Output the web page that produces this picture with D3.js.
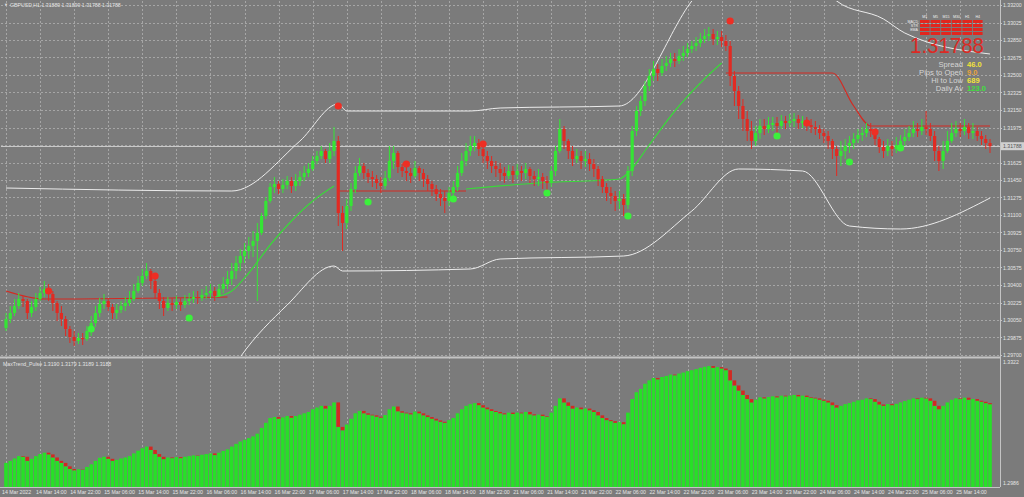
<!DOCTYPE html>
<html>
<head>
<meta charset="utf-8">
<script src="https://cdn.jsdelivr.net/npm/d3@7"></script>
<style>
  body { margin: 0; background: #7b7b7b; overflow: hidden; }
  svg { display: block; }
  text { font-family: "Liberation Sans", Arial, sans-serif; }
</style>
</head>
<body>
<div id="chart"></div>
<script>
// ---- data (GBPUSD H1) ----
const symbolTitle = "GBPUSD,H1  1.31889 1.31899 1.31788 1.31788"
const pulseTitle = "MaxTrend_Pulse 1.3190 1.3179 1.3189 1.3188"
const firstOpen = 1.2997

const closes = [
  1.3006,1.3012,1.3019,1.3026,1.3024,1.3012,1.3018,1.3026,1.3032,1.3036,
  1.3031,1.3022,1.3012,1.3006,1.2996,1.2988,1.2984,1.2987,1.2986,1.2994,
  1.3002,1.3012,1.3021,1.3024,1.3018,1.3012,1.3015,1.3019,1.3022,1.3026,
  1.3034,1.3042,1.3049,1.3054,1.3044,1.3032,1.3024,1.3017,1.3022,1.3020,
  1.3023,1.3020,1.3024,1.3026,1.3028,1.3027,1.3030,1.3032,1.3034,1.3029,
  1.3036,1.3041,1.3046,1.3054,1.3062,1.3069,1.3074,1.3079,1.3084,1.3092,
  1.3109,1.3124,1.3138,1.3141,1.3136,1.3140,1.3144,1.3139,1.3144,1.3148,
  1.3152,1.3156,1.3164,1.3169,1.3174,1.3166,1.3174,1.3184,1.3112,1.3102,
  1.3119,1.3136,1.3152,1.3159,1.3152,1.3148,1.3146,1.3142,1.3139,1.3147,
  1.3164,1.3172,1.3158,1.3154,1.3152,1.3149,1.3157,1.3152,1.3146,1.3141,
  1.3136,1.3131,1.3127,1.3124,1.3132,1.3138,1.3152,1.3164,1.3174,1.3179,
  1.3182,1.3176,1.3169,1.3164,1.3159,1.3156,1.3152,1.3149,1.3154,1.3150,
  1.3154,1.3152,1.3156,1.3149,1.3146,1.3148,1.3144,1.3142,1.3154,1.3174,
  1.3196,1.3184,1.3174,1.3166,1.3169,1.3164,1.3166,1.3161,1.3156,1.3146,
  1.3138,1.3132,1.3129,1.3124,1.3126,1.3120,1.3154,1.3194,1.3214,1.3224,
  1.3239,1.3249,1.3256,1.3252,1.3259,1.3262,1.3266,1.3264,1.3269,1.3272,
  1.3276,1.3279,1.3282,1.3286,1.3289,1.3291,1.3286,1.3288,1.3284,1.3279,
  1.3249,1.3234,1.3219,1.3206,1.3194,1.3184,1.3192,1.3199,1.3196,1.3200,
  1.3202,1.3199,1.3204,1.3202,1.3204,1.3206,1.3202,1.3204,1.3200,1.3198,
  1.3196,1.3192,1.3189,1.3184,1.3176,1.3169,1.3174,1.3179,1.3182,1.3186,
  1.3190,1.3192,1.3196,1.3194,1.3186,1.3178,1.3174,1.3179,1.3176,1.3180,
  1.3184,1.3188,1.3192,1.3196,1.3194,1.3198,1.3196,1.3189,1.3174,1.3164,
  1.3174,1.3184,1.3192,1.3196,1.3194,1.3198,1.3192,1.3194,1.3189,1.3186,1.3182,1.31788
]

const highs = [
  1.3012,1.3019,1.3026,1.3032,1.3029,1.3026,1.3024,1.3032,1.3038,1.3044,
  1.3041,1.3034,1.3024,1.3019,1.3009,1.2999,1.2994,1.2992,1.2992,1.2999,
  1.3009,1.3019,1.3027,1.3031,1.3026,1.3021,1.3021,1.3024,1.3028,1.3034,
  1.3041,1.3049,1.3056,1.3062,1.3056,1.3048,1.3036,1.3028,1.3028,1.3027,
  1.3029,1.3027,1.3030,1.3032,1.3034,1.3034,1.3036,1.3039,1.3041,1.3038,
  1.3041,1.3048,1.3054,1.3062,1.3069,1.3076,1.3082,1.3088,1.3094,1.3102,
  1.3112,1.3128,1.3142,1.3148,1.3144,1.3146,1.3149,1.3148,1.3151,1.3154,
  1.3159,1.3162,1.3169,1.3174,1.3179,1.3176,1.3182,1.3198,1.3189,1.3119,
  1.3126,1.3142,1.3159,1.3167,1.3162,1.3156,1.3154,1.3150,1.3148,1.3154,
  1.3179,1.3179,1.3174,1.3162,1.3159,1.3157,1.3164,1.3159,1.3156,1.3150,
  1.3144,1.3140,1.3136,1.3134,1.3138,1.3144,1.3159,1.3172,1.3182,1.3189,
  1.3189,1.3186,1.3181,1.3174,1.3169,1.3164,1.3162,1.3158,1.3160,1.3159,
  1.3161,1.3159,1.3162,1.3158,1.3154,1.3156,1.3152,1.3149,1.3159,1.3179,
  1.3206,1.3199,1.3186,1.3179,1.3176,1.3174,1.3174,1.3172,1.3166,1.3159,
  1.3149,1.3142,1.3138,1.3134,1.3134,1.3131,1.3159,1.3199,1.3219,1.3229,
  1.3244,1.3256,1.3264,1.3261,1.3266,1.3269,1.3272,1.3272,1.3276,1.3279,
  1.3282,1.3284,1.3288,1.3292,1.3296,1.3298,1.3296,1.3294,1.3294,1.3290,
  1.3284,1.3254,1.3239,1.3226,1.3214,1.3204,1.3199,1.3206,1.3206,1.3208,
  1.3208,1.3208,1.3210,1.3209,1.3211,1.3212,1.3210,1.3209,1.3208,1.3206,
  1.3204,1.3200,1.3196,1.3194,1.3186,1.3179,1.3184,1.3186,1.3189,1.3192,
  1.3196,1.3198,1.3202,1.3202,1.3196,1.3188,1.3184,1.3186,1.3184,1.3188,
  1.3190,1.3196,1.3199,1.3204,1.3202,1.3206,1.3214,1.3202,1.3194,1.3179,
  1.3184,1.3194,1.3202,1.3204,1.3202,1.3206,1.3202,1.3202,1.3198,1.3194,1.3190,1.3186
]

const lows = [
  1.2994,1.3002,1.3009,1.3016,1.3018,1.3006,1.3008,1.3014,1.3024,1.3028,
  1.3024,1.3014,1.3004,1.2999,1.2989,1.2982,1.2979,1.2981,1.2980,1.2984,
  1.2989,1.2998,1.3008,1.3016,1.3014,1.3006,1.3006,1.3012,1.3014,1.3019,
  1.3024,1.3032,1.3039,1.3046,1.3036,1.3026,1.3016,1.3009,1.3014,1.3014,
  1.3016,1.3014,1.3017,1.3020,1.3022,1.3021,1.3024,1.3026,1.3027,1.3024,
  1.3028,1.3032,1.3036,1.3040,1.3046,1.3054,1.3062,1.3066,1.3068,1.3024,
  1.3090,1.3106,1.3122,1.3132,1.3131,1.3132,1.3136,1.3132,1.3134,1.3139,
  1.3144,1.3148,1.3154,1.3161,1.3166,1.3162,1.3162,1.3169,1.3099,1.3074,
  1.3096,1.3114,1.3132,1.3149,1.3146,1.3142,1.3138,1.3136,1.3132,1.3136,
  1.3144,1.3156,1.3152,1.3148,1.3144,1.3142,1.3147,1.3144,1.3138,1.3134,
  1.3129,1.3124,1.3119,1.3112,1.3119,1.3124,1.3134,1.3149,1.3159,1.3169,
  1.3174,1.3169,1.3162,1.3156,1.3152,1.3148,1.3144,1.3142,1.3146,1.3142,
  1.3146,1.3144,1.3146,1.3142,1.3139,1.3139,1.3136,1.3134,1.3138,1.3149,
  1.3172,1.3176,1.3166,1.3159,1.3162,1.3156,1.3158,1.3154,1.3148,1.3139,
  1.3132,1.3124,1.3121,1.3114,1.3116,1.3109,1.3116,1.3149,1.3189,1.3209,
  1.3219,1.3234,1.3244,1.3244,1.3249,1.3254,1.3258,1.3258,1.3261,1.3264,
  1.3268,1.3272,1.3274,1.3278,1.3282,1.3284,1.3280,1.3280,1.3278,1.3274,
  1.3239,1.3219,1.3206,1.3194,1.3184,1.3176,1.3179,1.3186,1.3190,1.3192,
  1.3194,1.3190,1.3196,1.3196,1.3198,1.3198,1.3196,1.3197,1.3194,1.3192,
  1.3190,1.3186,1.3182,1.3176,1.3166,1.3149,1.3159,1.3166,1.3172,1.3176,
  1.3182,1.3184,1.3188,1.3188,1.3180,1.3172,1.3167,1.3169,1.3169,1.3172,
  1.3174,1.3179,1.3184,1.3188,1.3188,1.3190,1.3190,1.3184,1.3164,1.3154,
  1.3156,1.3172,1.3182,1.3188,1.3188,1.3190,1.3186,1.3186,1.3184,1.3180,1.3176,1.3172
]

// envelope bands: [bar index, price]
const upperBand = [[0,1.3137],[53,1.3134],[69,1.3184],[78,1.3221],[80,1.3214],[109,1.3214],[116,1.3217],
  [144,1.3219],[161,1.3324],[172,1.3380],[186,1.3375],[195,1.3324],[206,1.3306],[211,1.3292],[231,1.3271]]
const lowerBand = [[50,1.2935],[55,1.2968],[66,1.3020],[77,1.3059],[79,1.3054],[109,1.3056],[116,1.3066],
  [145,1.3069],[161,1.3114],[172,1.3156],[187,1.3154],[198,1.3099],[210,1.3096],[231,1.3127]]

// trend line, split by direction
const trendDown = [
  [[0,1.3034],[9,1.3026],[52,1.3028]],
  [[78,1.3134],[108,1.3134]],
  [[169,1.3252],[194,1.3252],[199,1.3219],[203,1.3199],[231,1.3199]]
]
const trendUp = [
  [[49,1.3028],[53,1.3034],[57,1.3052],[62,1.3080],[67,1.3104],[72,1.3124],[77,1.3139]],
  [[108,1.3136],[125,1.3142],[144,1.3146],[146,1.3152],[151,1.3180],[157,1.3214],[163,1.3242],[168,1.3262]]
]

// swing dots: [bar index, price]
const sellDots = [[10,1.3034],[35,1.3049],[78,1.3219],[94,1.3161],[112,1.3181],[170,1.3304],[188,1.3202],[204,1.3193]]
const buyDots = [[20,1.2996],[43,1.3007],[85,1.3123],[105,1.3126],[127,1.3132],[146,1.3109],[181,1.3189],[198,1.3163],[210,1.3177]]

const timeLabels = ["14 Mar 2022","14 Mar 14:00","14 Mar 22:00","15 Mar 06:00","15 Mar 14:00","15 Mar 22:00",
  "16 Mar 06:00","16 Mar 14:00","16 Mar 22:00","17 Mar 06:00","17 Mar 14:00","17 Mar 22:00","18 Mar 06:00",
  "18 Mar 14:00","18 Mar 22:00","21 Mar 06:00","21 Mar 14:00","21 Mar 22:00","22 Mar 06:00","22 Mar 14:00",
  "22 Mar 22:00","23 Mar 06:00","23 Mar 14:00","23 Mar 22:00","24 Mar 06:00","24 Mar 14:00","24 Mar 22:00",
  "25 Mar 06:00","25 Mar 14:00"]
const barsPerLabel = 8

const priceTicks = [1.33200,1.33025,1.32850,1.32675,1.32500,1.32325,1.32150,1.31975,1.31800,1.31625,
  1.31450,1.31275,1.31100,1.30925,1.30750,1.30575,1.30400,1.30225,1.30050,1.29875,1.29700]
const pulseTicks = ["1.3322", "1.2986"]

const timeframes = ["M1","M5","M15","M30","H1","H4"]
const signalRows = ["MACD","STR","EMA",""]
const infoLabels = ["Spread","Pips to Open","Hi to Low","Daily Av"]
const infoValues = ["46.0","9.0","689","123.0"]
const infoValueColors = ["#f2e23a","#e8a23a","#f2e23a","#3ee03e"]

// ---- layout ----
const W = 1024, H = 497
const plotL = 1, plotR = 1000
const mainT = 1, mainB = 356
const lowT = 360, lowB = 487
const N = closes.length
const opens = closes.map((c, i) => i === 0 ? firstOpen : closes[i - 1])

const UP = "#35e535", DOWN = "#e22a22", GRID = "#a6a6a6", AXIS_TXT = "#e4e4e4"

const svg = d3.select('#chart').append('svg')
    .attr('width', W)
    .attr('height', H)

svg.append('rect').attr('width', W).attr('height', H).attr('fill', '#7b7b7b')

const x = d3.scaleLinear().domain([0, N - 1]).range([6, 990])
const y = d3.scaleLinear().domain([1.2969, 1.3324]).range([mainB, mainT])
const yLow = d3.scaleLinear().domain([1.2935, 1.3309]).range([lowB, lowT])

const defs = svg.append('defs')
defs.append('clipPath').attr('id', 'clipMain')
    .append('rect').attr('x', plotL).attr('y', mainT).attr('width', plotR - plotL).attr('height', mainB - mainT)
defs.append('clipPath').attr('id', 'clipLow')
    .append('rect').attr('x', plotL).attr('y', lowT).attr('width', plotR - plotL).attr('height', lowB - lowT)

//grid
const grid = svg.append('g').attr('stroke', GRID).attr('stroke-width', 1).attr('stroke-dasharray', '2,2')
grid.selectAll('.hg').data(priceTicks).join('line')
    .attr('x1', plotL).attr('x2', plotR)
    .attr('y1', d => Math.round(y(d)) + 0.5).attr('y2', d => Math.round(y(d)) + 0.5)
grid.selectAll('.vg').data(timeLabels).join('line')
    .attr('x1', (d, i) => Math.round(x(i * barsPerLabel)) + 0.5)
    .attr('x2', (d, i) => Math.round(x(i * barsPerLabel)) + 0.5)
    .attr('y1', mainT).attr('y2', lowB)

// frame lines
const frame = svg.append('g').attr('stroke', '#c4c4c4').attr('fill', 'none')
frame.append('line').attr('x1', plotR + 0.5).attr('x2', plotR + 0.5).attr('y1', 0).attr('y2', lowB)
frame.append('line').attr('x1', 0).attr('x2', plotR).attr('y1', mainB + 1.5).attr('y2', mainB + 1.5).attr('stroke-width', 2)
frame.append('line').attr('x1', 0).attr('x2', plotR).attr('y1', lowB + 0.5).attr('y2', lowB + 0.5)

// ---- main panel ----
const main = svg.append('g').attr('clip-path', 'url(#clipMain)')

// current bid line
main.append('line')
    .attr('x1', plotL).attr('x2', plotR)
    .attr('y1', Math.round(y(closes[N - 1])) + 0.5).attr('y2', Math.round(y(closes[N - 1])) + 0.5)
    .attr('stroke', '#c9c9c9').attr('stroke-width', 1)

const bandLine = d3.line().x(d => x(d[0])).y(d => y(d[1])).curve(d3.curveMonotoneX)
main.selectAll('.band').data([upperBand, lowerBand]).join('path')
    .attr('d', bandLine)
    .attr('fill', 'none')
    .attr('stroke', '#ececec')
    .attr('stroke-width', 1)

main.selectAll('.tdown').data(trendDown).join('path')
    .attr('d', bandLine).attr('fill', 'none').attr('stroke', '#d42a22').attr('stroke-width', 1.2)
main.selectAll('.tup').data(trendUp).join('path')
    .attr('d', bandLine).attr('fill', 'none').attr('stroke', '#3ad83a').attr('stroke-width', 1.2)

//candles
const candles = main.append('g').selectAll('g').data(d3.range(N)).join('g')
candles.append('line')
    .attr('x1', i => x(i)).attr('x2', i => x(i))
    .attr('y1', i => y(highs[i])).attr('y2', i => y(lows[i]))
    .attr('stroke', i => closes[i] >= opens[i] ? UP : DOWN)
    .attr('stroke-width', 1)
candles.append('rect')
    .attr('x', i => x(i) - 1.6)
    .attr('width', 3.2)
    .attr('y', i => y(Math.max(opens[i], closes[i])))
    .attr('height', i => Math.max(1.2, Math.abs(y(opens[i]) - y(closes[i]))))
    .attr('fill', i => closes[i] >= opens[i] ? UP : DOWN)

// swing dots
main.selectAll('.sd').data(sellDots).join('circle')
    .attr('cx', d => x(d[0])).attr('cy', d => y(d[1])).attr('r', 3.6).attr('fill', '#ee2e24')
main.selectAll('.bd').data(buyDots).join('circle')
    .attr('cx', d => x(d[0])).attr('cy', d => y(d[1])).attr('r', 3.6).attr('fill', '#3cf03c')

// ---- lower panel: MaxTrend_Pulse histogram ----
const low = svg.append('g').attr('clip-path', 'url(#clipLow)')
low.selectAll('.hb').data(d3.range(N)).join('rect')
    .attr('x', i => x(i) - 1.8).attr('width', 3.6)
    .attr('y', i => yLow(closes[i]))
    .attr('height', i => lowB - yLow(closes[i]))
    .attr('fill', '#27e027')
low.selectAll('.hr').data(d3.range(N).filter(i => closes[i] < opens[i])).join('rect')
    .attr('x', i => x(i) - 1.8).attr('width', 3.6)
    .attr('y', i => yLow(opens[i]))
    .attr('height', i => yLow(closes[i]) - yLow(opens[i]))
    .attr('fill', '#d12a22')

// ---- axes ----
const ax = svg.append('g').attr('fill', AXIS_TXT).attr('font-size', 5.2)
ax.selectAll('.pt').data(priceTicks).join('text')
    .attr('x', plotR + 3).attr('y', d => y(d) + 2)
    .text(d => d.toFixed(5))
svg.append('g').attr('stroke', '#c4c4c4').selectAll('line').data(priceTicks).join('line')
    .attr('x1', plotR).attr('x2', plotR + 2)
    .attr('y1', d => Math.round(y(d)) + 0.5).attr('y2', d => Math.round(y(d)) + 0.5)

ax.selectAll('.tl').data(timeLabels).join('text')
    .attr('x', (d, i) => x(i * barsPerLabel) - 4)
    .attr('y', lowB + 7)
    .text(d => d)

ax.append('text').attr('x', plotR + 3).attr('y', lowT + 4).text(pulseTicks[0])
ax.append('text').attr('x', plotR + 3).attr('y', lowB - 2).text(pulseTicks[1])

// current price box
const cy = y(closes[N - 1])
svg.append('rect').attr('x', plotR + 1).attr('y', cy - 4).attr('width', W - plotR - 1).attr('height', 8)
    .attr('fill', '#d0d0d0')
svg.append('text').attr('x', plotR + 3).attr('y', cy + 2).attr('font-size', 5.2).attr('fill', '#555')
    .text(closes[N - 1].toFixed(5))

// titles
svg.append('text').attr('x', 4).attr('y', 6).attr('font-size', 4).attr('fill', AXIS_TXT).text('▼')
svg.append('text').attr('x', 10).attr('y', 7).attr('font-size', 5.2).attr('fill', AXIS_TXT).text(symbolTitle)
svg.append('text').attr('x', 3).attr('y', lowT + 6).attr('font-size', 5.2).attr('fill', AXIS_TXT).text(pulseTitle)

// ---- info panel (top right) ----
const info = svg.append('g')
const cellW = 9.6, cellH = 3, gx0 = 920, gy0 = 20
info.selectAll('.tf').data(timeframes).join('text')
    .attr('x', (d, i) => gx0 + i * (cellW + 1) + cellW / 2).attr('y', gy0 - 2)
    .attr('text-anchor', 'middle').attr('font-size', 3.6).attr('fill', '#eee')
    .text(d => d)
info.selectAll('.rl').data(signalRows).join('text')
    .attr('x', gx0 - 2).attr('y', (d, i) => gy0 + i * (cellH + 1) + 3)
    .attr('text-anchor', 'end').attr('font-size', 3.6).attr('fill', '#eee')
    .text(d => d)
signalRows.forEach((r, ri) => {
    info.selectAll('.c' + ri).data(timeframes).join('rect')
        .attr('x', (d, i) => gx0 + i * (cellW + 1))
        .attr('y', gy0 + ri * (cellH + 1))
        .attr('width', cellW).attr('height', cellH)
        .attr('fill', '#e2261e')
})
info.append('text')
    .attr('x', 910).attr('y', 53)
    .attr('font-size', 22).attr('textLength', 74).attr('lengthAdjust', 'spacingAndGlyphs')
    .attr('fill', '#dc2a24')
    .text(closes[N - 1].toFixed(5))
info.selectAll('.il').data(infoLabels).join('text')
    .attr('x', 963).attr('y', (d, i) => 66.5 + i * 8.2)
    .attr('text-anchor', 'end').attr('font-size', 7.6).attr('fill', '#d6d6d6')
    .text(d => d)
info.selectAll('.iv').data(infoValues).join('text')
    .attr('x', 967).attr('y', (d, i) => 66.5 + i * 8.2)
    .attr('font-size', 7.6).attr('font-weight', 'bold')
    .attr('fill', (d, i) => infoValueColors[i])
    .text(d => d)
</script>
</body>
</html>
